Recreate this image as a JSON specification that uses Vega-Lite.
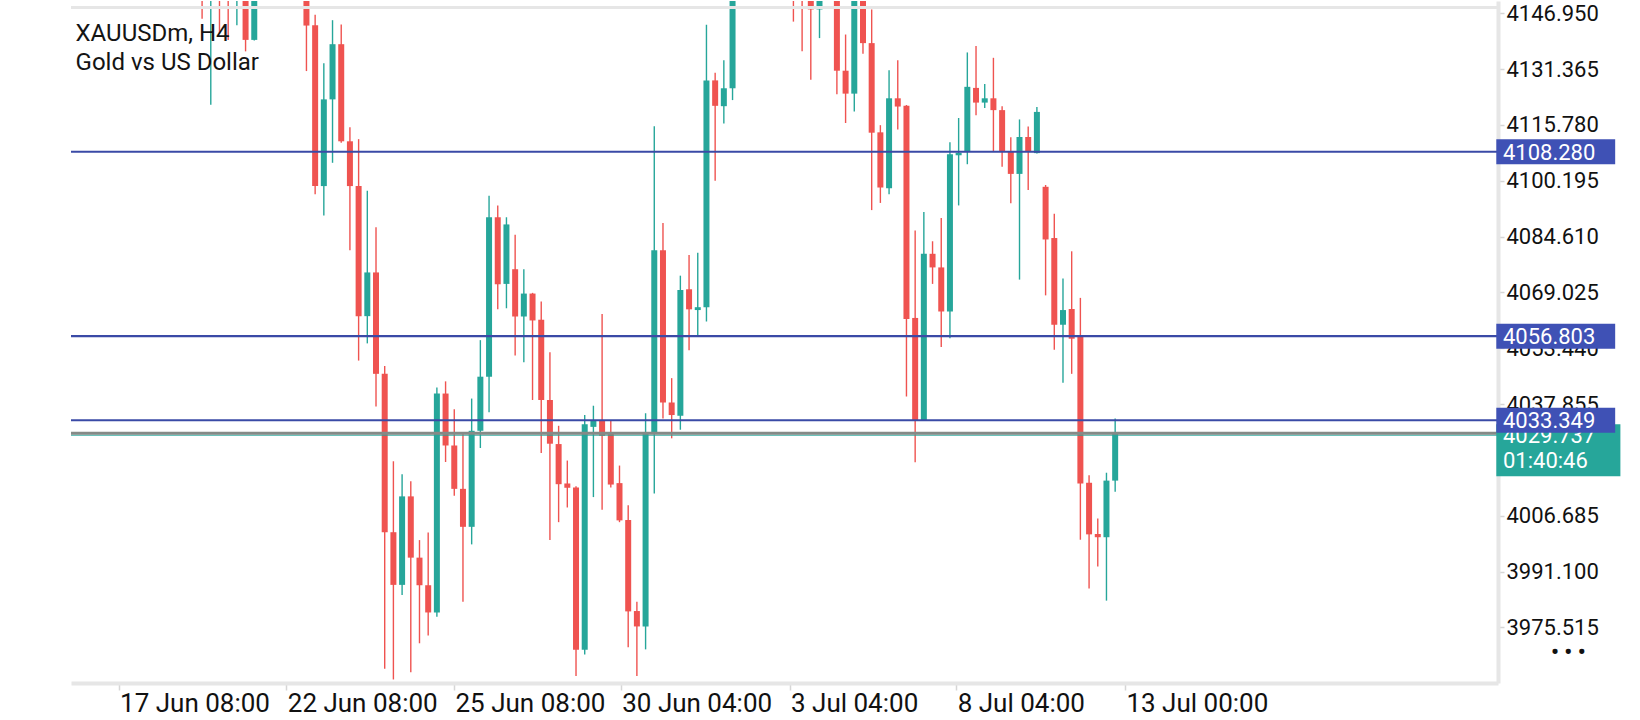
{
  "$schema": "https://vega.github.io/schema/vega-lite/v6.json",
  "width": 1427,
  "height": 682,
  "padding": {"left": 69, "top": 1, "right": 0, "bottom": 0},
  "background": "white",
  "config": {"view": {"stroke": null}, "font": "Roboto"},
  "datasets": {
    "candles": [
      {"i": 0, "o": 4160, "h": 4163, "l": 4145.4, "c": 4154},
      {"i": 1, "o": 4154, "h": 4161, "l": 4121.4, "c": 4158},
      {"i": 2, "o": 4158, "h": 4160, "l": 4141.3, "c": 4153},
      {"i": 3, "o": 4153, "h": 4156, "l": 4139.5, "c": 4151},
      {"i": 4, "o": 4151, "h": 4158, "l": 4143.6, "c": 4156},
      {"i": 5, "o": 4156, "h": 4158, "l": 4136.3, "c": 4139.5},
      {"i": 6, "o": 4139.5, "h": 4157, "l": 4139.3, "c": 4155},
      {"i": 7, "o": 4155, "h": 4165, "l": 4152, "c": 4162},
      {"i": 8, "o": 4162, "h": 4166, "l": 4154, "c": 4158},
      {"i": 9, "o": 4158, "h": 4168, "l": 4156, "c": 4164},
      {"i": 10, "o": 4164, "h": 4167, "l": 4155, "c": 4157},
      {"i": 11, "o": 4157, "h": 4160, "l": 4151, "c": 4153},
      {"i": 12, "o": 4153, "h": 4156, "l": 4130.8, "c": 4143.5},
      {"i": 13, "o": 4143.6, "h": 4146.5, "l": 4096.4, "c": 4098.7},
      {"i": 14, "o": 4098.7, "h": 4133, "l": 4090.5, "c": 4122.9},
      {"i": 15, "o": 4122.9, "h": 4145, "l": 4105.2, "c": 4138.3},
      {"i": 16, "o": 4138.3, "h": 4143.8, "l": 4110.8, "c": 4111.2},
      {"i": 17, "o": 4111.2, "h": 4115.1, "l": 4080.8, "c": 4098.7},
      {"i": 18, "o": 4098.7, "h": 4111.8, "l": 4050, "c": 4062.4},
      {"i": 19, "o": 4062.4, "h": 4097.4, "l": 4054.8, "c": 4074.6},
      {"i": 20, "o": 4074.6, "h": 4087.2, "l": 4037.2, "c": 4046.3},
      {"i": 21, "o": 4046.3, "h": 4048.5, "l": 3964, "c": 4002.1},
      {"i": 22, "o": 4002.1, "h": 4021.9, "l": 3961, "c": 3987.4},
      {"i": 23, "o": 3987.4, "h": 4018.3, "l": 3984.6, "c": 4012.1},
      {"i": 24, "o": 4012.1, "h": 4016.3, "l": 3963, "c": 3995},
      {"i": 25, "o": 3995, "h": 3999.9, "l": 3971.1, "c": 3987.3},
      {"i": 26, "o": 3987.3, "h": 4002, "l": 3973.3, "c": 3979.7},
      {"i": 27, "o": 3979.7, "h": 4042.5, "l": 3978.5, "c": 4040.8},
      {"i": 28, "o": 4040.8, "h": 4044.2, "l": 4021.7, "c": 4026.3},
      {"i": 29, "o": 4026.3, "h": 4036.4, "l": 4012.3, "c": 4014.2},
      {"i": 30, "o": 4014.2, "h": 4029.6, "l": 3982.7, "c": 4003.6},
      {"i": 31, "o": 4003.6, "h": 4039.4, "l": 3998.7, "c": 4030.4},
      {"i": 32, "o": 4030.4, "h": 4055.7, "l": 4025.6, "c": 4045.5},
      {"i": 33, "o": 4045.5, "h": 4096, "l": 4035.6, "c": 4090},
      {"i": 34, "o": 4090, "h": 4093.3, "l": 4064.3, "c": 4071.3},
      {"i": 35, "o": 4071.4, "h": 4090, "l": 4064.6, "c": 4088},
      {"i": 36, "o": 4075.5, "h": 4085.1, "l": 4051.4, "c": 4062.3},
      {"i": 37, "o": 4062.3, "h": 4075.5, "l": 4049.5, "c": 4068.7},
      {"i": 38, "o": 4068.7, "h": 4068.9, "l": 4039, "c": 4061.2},
      {"i": 39, "o": 4061.4, "h": 4066.5, "l": 4024.2, "c": 4039},
      {"i": 40, "o": 4039, "h": 4052.3, "l": 3999.9, "c": 4026.8},
      {"i": 41, "o": 4026.7, "h": 4031.8, "l": 4004.9, "c": 4015.5},
      {"i": 42, "o": 4015.7, "h": 4022.1, "l": 4009, "c": 4014.5},
      {"i": 43, "o": 4014.6, "h": 4014.9, "l": 3962, "c": 3969.3},
      {"i": 44, "o": 3969.3, "h": 4034.8, "l": 3968, "c": 4032.2},
      {"i": 45, "o": 4031.5, "h": 4037.4, "l": 4011.9, "c": 4033.4},
      {"i": 46, "o": 4033.4, "h": 4063, "l": 4008.4, "c": 4029},
      {"i": 47, "o": 4029.6, "h": 4033.2, "l": 4014.6, "c": 4015.4},
      {"i": 48, "o": 4015.8, "h": 4020.7, "l": 4004.9, "c": 4005.4},
      {"i": 49, "o": 4005.5, "h": 4009.6, "l": 3970, "c": 3980},
      {"i": 50, "o": 3980.1, "h": 3982.7, "l": 3962, "c": 3975.8},
      {"i": 51, "o": 3975.8, "h": 4035.3, "l": 3969.4, "c": 4029.8},
      {"i": 52, "o": 4029.8, "h": 4115.4, "l": 4012.9, "c": 4080.8},
      {"i": 53, "o": 4080.8, "h": 4088.4, "l": 4033.8, "c": 4038.3},
      {"i": 54, "o": 4038.3, "h": 4045.1, "l": 4028.3, "c": 4034.8},
      {"i": 55, "o": 4034.6, "h": 4073.7, "l": 4030.7, "c": 4069.7},
      {"i": 56, "o": 4069.9, "h": 4079.5, "l": 4052.9, "c": 4064.3},
      {"i": 57, "o": 4064.1, "h": 4080.1, "l": 4056.6, "c": 4064.9},
      {"i": 58, "o": 4064.9, "h": 4143.7, "l": 4060.9, "c": 4128.2},
      {"i": 59, "o": 4128.2, "h": 4130.3, "l": 4100.2, "c": 4121.1},
      {"i": 60, "o": 4121, "h": 4133.8, "l": 4116.2, "c": 4126},
      {"i": 61, "o": 4126, "h": 4155, "l": 4122.7, "c": 4152},
      {"i": 62, "o": 4152, "h": 4163, "l": 4150.5, "c": 4160},
      {"i": 63, "o": 4160, "h": 4164, "l": 4153, "c": 4156},
      {"i": 64, "o": 4156, "h": 4168, "l": 4154, "c": 4165},
      {"i": 65, "o": 4165, "h": 4167, "l": 4155, "c": 4158},
      {"i": 66, "o": 4158, "h": 4166, "l": 4156, "c": 4163},
      {"i": 67, "o": 4163, "h": 4165, "l": 4153, "c": 4156},
      {"i": 68, "o": 4156, "h": 4158, "l": 4144.6, "c": 4152},
      {"i": 69, "o": 4152, "h": 4155, "l": 4136.3, "c": 4151},
      {"i": 70, "o": 4153, "h": 4155, "l": 4128.4, "c": 4148},
      {"i": 71, "o": 4148, "h": 4154, "l": 4140, "c": 4152},
      {"i": 72, "o": 4152, "h": 4160, "l": 4150.5, "c": 4158},
      {"i": 73, "o": 4158, "h": 4160, "l": 4124.3, "c": 4130.9},
      {"i": 74, "o": 4130.9, "h": 4141, "l": 4116.3, "c": 4124.5},
      {"i": 75, "o": 4124.5, "h": 4156, "l": 4119.5, "c": 4153},
      {"i": 76, "o": 4153, "h": 4155, "l": 4135.6, "c": 4138.6},
      {"i": 77, "o": 4138.6, "h": 4148, "l": 4092, "c": 4113.6},
      {"i": 78, "o": 4113.7, "h": 4115.7, "l": 4094, "c": 4098.3},
      {"i": 79, "o": 4098.1, "h": 4131, "l": 4096.4, "c": 4123.2},
      {"i": 80, "o": 4123.2, "h": 4133.8, "l": 4114.5, "c": 4120.9},
      {"i": 81, "o": 4121.1, "h": 4121.3, "l": 4040, "c": 4061.6},
      {"i": 82, "o": 4061.9, "h": 4086.3, "l": 4021.6, "c": 4033.4},
      {"i": 83, "o": 4033.4, "h": 4091.5, "l": 4033.3, "c": 4079.8},
      {"i": 84, "o": 4079.8, "h": 4083.3, "l": 4071.4, "c": 4076},
      {"i": 85, "o": 4076, "h": 4089.8, "l": 4053.8, "c": 4063.7},
      {"i": 86, "o": 4063.7, "h": 4110.9, "l": 4056.2, "c": 4107.6},
      {"i": 87, "o": 4107.3, "h": 4117.7, "l": 4093.3, "c": 4108},
      {"i": 88, "o": 4108.3, "h": 4136, "l": 4104.8, "c": 4126.4},
      {"i": 89, "o": 4126.1, "h": 4137.8, "l": 4118.5, "c": 4122},
      {"i": 90, "o": 4122, "h": 4127.2, "l": 4120.5, "c": 4123.2},
      {"i": 91, "o": 4123.2, "h": 4134.5, "l": 4108.3, "c": 4119.9},
      {"i": 92, "o": 4119.9, "h": 4121, "l": 4104.1, "c": 4108.3},
      {"i": 93, "o": 4108.4, "h": 4112.3, "l": 4093.9, "c": 4102.1},
      {"i": 94, "o": 4102.1, "h": 4117.3, "l": 4072.6, "c": 4112.4},
      {"i": 95, "o": 4112.4, "h": 4115.3, "l": 4097.6, "c": 4108.3},
      {"i": 96, "o": 4107.9, "h": 4120.8, "l": 4107.8, "c": 4119.4},
      {"i": 97, "o": 4098.5, "h": 4099, "l": 4068.2, "c": 4083.8},
      {"i": 98, "o": 4084.2, "h": 4091, "l": 4053, "c": 4060},
      {"i": 99, "o": 4060, "h": 4072.9, "l": 4043.8, "c": 4064.1},
      {"i": 100, "o": 4064.4, "h": 4080.5, "l": 4046.3, "c": 4056.1},
      {"i": 101, "o": 4056.6, "h": 4067.5, "l": 4000, "c": 4015.7},
      {"i": 102, "o": 4015.9, "h": 4018, "l": 3986.4, "c": 4001.5},
      {"i": 103, "o": 4001.6, "h": 4005.9, "l": 3992.5, "c": 4000.7},
      {"i": 104, "o": 4000.7, "h": 4018.7, "l": 3983, "c": 4016.5},
      {"i": 105, "o": 4016.5, "h": 4033.8, "l": 4013.4, "c": 4029.737}
    ],
    "levels": [
      {"price": 4108.28, "label": "4108.280"},
      {"price": 4056.803, "label": "4056.803"},
      {"price": 4033.349, "label": "4033.349"}
    ],
    "bid": [
      {"price": 4029.737, "label": "4029.737", "timer": "01:40:46"}
    ]
  },
  "layer": [
    {
      "data": {"name": "candles"},
      "mark": {"type": "rule", "strokeWidth": 1.4, "clip": true},
      "encoding": {
        "x": {
          "field": "i",
          "type": "quantitative",
          "scale": {"domain": [-14.5, 148.45], "nice": false, "zero": false},
          "axis": {
            "title": null,
            "grid": false,
            "values": [-9.61, 9.68, 28.97, 48.14, 67.55, 86.72, 106.12],
            "labelExpr": "datum.value < 0 ? '17 Jun 08:00' : datum.value < 20 ? '22 Jun 08:00' : datum.value < 40 ? '25 Jun 08:00' : datum.value < 60 ? '30 Jun 04:00' : datum.value < 75 ? '3 Jul 04:00' : datum.value < 95 ? '8 Jul 04:00' : '13 Jul 00:00'",
            "labelAlign": "left",
            "labelOffset": 1,
            "labelPadding": 0,
            "labelFont": "Roboto",
            "labelFontSize": 26,
            "labelColor": "#111111",
            "labelFlush": false,
            "labelOverlap": false,
            "tickColor": "#d6d6d6",
            "tickSize": 7,
            "tickWidth": 1.5,
            "domainColor": "#e6e6e6",
            "domainWidth": 4
          }
        },
        "y": {
          "field": "l",
          "type": "quantitative",
          "scale": {"domain": [3961.41, 4148.96], "nice": false, "zero": false},
          "axis": {
            "orient": "right",
            "title": null,
            "grid": false,
            "values": [4146.95, 4131.365, 4115.78, 4100.195, 4084.61, 4069.025, 4053.44, 4037.855, 4022.27, 4006.685, 3991.1, 3975.515],
            "format": ".3f",
            "labelPadding": 2,
            "labelFont": "Roboto",
            "labelFontSize": 22,
            "labelColor": "#111111",
            "labelBaseline": "middle",
            "labelFlush": false,
            "labelOverlap": false,
            "tickColor": "#d6d6d6",
            "tickSize": 6,
            "tickWidth": 1.5,
            "domainColor": "#e6e6e6",
            "domainWidth": 4
          }
        },
        "y2": {"field": "h"},
        "color": {"condition": {"test": "datum.c >= datum.o", "value": "#26a69a"}, "value": "#ef5350"}
      }
    },
    {
      "data": {"name": "candles"},
      "mark": {"type": "bar", "size": 6, "clip": true},
      "encoding": {
        "x": {"field": "i", "type": "quantitative", "title": null, "scale": {"domain": [-14.5, 148.45], "nice": false, "zero": false}},
        "y": {"field": "o", "type": "quantitative", "title": null, "scale": {"domain": [3961.41, 4148.96], "nice": false, "zero": false}},
        "y2": {"field": "c"},
        "color": {"condition": {"test": "datum.c >= datum.o", "value": "#26a69a"}, "value": "#ef5350"}
      }
    },
    {
      "data": {"values": [{"edge": 4148.96}]},
      "mark": {"type": "rule", "color": "#e6e6e6", "strokeWidth": 3, "yOffset": 1.5, "clip": true},
      "encoding": {
        "y": {"field": "edge", "type": "quantitative", "title": null, "scale": {"domain": [3961.41, 4148.96], "nice": false, "zero": false}}
      }
    },
    {
      "data": {"name": "bid"},
      "mark": {"type": "rule", "color": "#26a69a", "strokeWidth": 1, "yOffset": 2},
      "encoding": {
        "y": {"field": "price", "type": "quantitative", "title": null, "scale": {"domain": [3961.41, 4148.96], "nice": false, "zero": false}}
      }
    },
    {
      "data": {"name": "bid"},
      "mark": {"type": "rule", "color": "#858a87", "strokeWidth": 3},
      "encoding": {
        "y": {"field": "price", "type": "quantitative", "title": null, "scale": {"domain": [3961.41, 4148.96], "nice": false, "zero": false}}
      }
    },
    {
      "data": {"name": "levels"},
      "mark": {"type": "rule", "color": "#3a4aa6", "strokeWidth": 2.2},
      "encoding": {
        "y": {"field": "price", "type": "quantitative", "title": null, "scale": {"domain": [3961.41, 4148.96], "nice": false, "zero": false}}
      }
    },
    {
      "data": {"values": [{"line1": "XAUUSDm, H4"}]},
      "mark": {"type": "text", "align": "left", "baseline": "alphabetic", "font": "Roboto", "fontSize": 24, "color": "#141414", "lineHeight": 29, "clip": false},
      "encoding": {
        "x": {"datum": -14.55, "type": "quantitative", "title": null, "scale": {"domain": [-14.5, 148.45], "nice": false, "zero": false}},
        "y": {"datum": 4139.2, "type": "quantitative", "title": null, "scale": {"domain": [3961.41, 4148.96], "nice": false, "zero": false}},
        "text": {"value": ["XAUUSDm, H4", "Gold vs US Dollar"]}
      }
    },
    {
      "data": {"name": "bid"},
      "mark": {"type": "bar", "orient": "horizontal", "size": 52, "yOffset": 17, "color": "#26a69a", "clip": false},
      "encoding": {
        "x": {"datum": 148.83, "type": "quantitative", "title": null, "scale": {"domain": [-14.5, 148.45], "nice": false, "zero": false}},
        "x2": {"datum": 163.1},
        "y": {"field": "price", "type": "quantitative", "title": null, "scale": {"domain": [3961.41, 4148.96], "nice": false, "zero": false}}
      }
    },
    {
      "data": {"name": "bid"},
      "mark": {"type": "text", "align": "left", "baseline": "middle", "dy": 3, "font": "Roboto", "fontSize": 22, "color": "white", "clip": false},
      "encoding": {
        "x": {"datum": 149.6, "type": "quantitative", "title": null, "scale": {"domain": [-14.5, 148.45], "nice": false, "zero": false}},
        "y": {"field": "price", "type": "quantitative", "title": null, "scale": {"domain": [3961.41, 4148.96], "nice": false, "zero": false}},
        "text": {"field": "label"}
      }
    },
    {
      "data": {"name": "bid"},
      "mark": {"type": "text", "align": "left", "baseline": "middle", "dy": 28, "font": "Roboto", "fontSize": 22, "color": "white", "clip": false},
      "encoding": {
        "x": {"datum": 149.6, "type": "quantitative", "title": null, "scale": {"domain": [-14.5, 148.45], "nice": false, "zero": false}},
        "y": {"field": "price", "type": "quantitative", "title": null, "scale": {"domain": [3961.41, 4148.96], "nice": false, "zero": false}},
        "text": {"field": "timer"}
      }
    },
    {
      "data": {"name": "levels"},
      "mark": {"type": "bar", "orient": "horizontal", "size": 25, "color": "#3f51b5", "clip": false},
      "encoding": {
        "x": {"datum": 148.83, "type": "quantitative", "title": null, "scale": {"domain": [-14.5, 148.45], "nice": false, "zero": false}},
        "x2": {"datum": 162.5},
        "y": {"field": "price", "type": "quantitative", "title": null, "scale": {"domain": [3961.41, 4148.96], "nice": false, "zero": false}}
      }
    },
    {
      "data": {"name": "levels"},
      "mark": {"type": "text", "align": "left", "baseline": "middle", "dy": 1, "font": "Roboto", "fontSize": 22, "color": "white", "clip": false},
      "encoding": {
        "x": {"datum": 149.6, "type": "quantitative", "title": null, "scale": {"domain": [-14.5, 148.45], "nice": false, "zero": false}},
        "y": {"field": "price", "type": "quantitative", "title": null, "scale": {"domain": [3961.41, 4148.96], "nice": false, "zero": false}},
        "text": {"field": "label"}
      }
    },
    {
      "data": {"values": [{"menu": "• • •"}]},
      "mark": {"type": "text", "align": "center", "baseline": "middle", "font": "Roboto", "fontSize": 22, "fontWeight": "bold", "color": "#111111", "clip": false},
      "encoding": {
        "x": {"datum": 157.1, "type": "quantitative", "title": null, "scale": {"domain": [-14.5, 148.45], "nice": false, "zero": false}},
        "y": {"datum": 3968.8, "type": "quantitative", "title": null, "scale": {"domain": [3961.41, 4148.96], "nice": false, "zero": false}},
        "text": {"field": "menu"}
      }
    }
  ]
}
